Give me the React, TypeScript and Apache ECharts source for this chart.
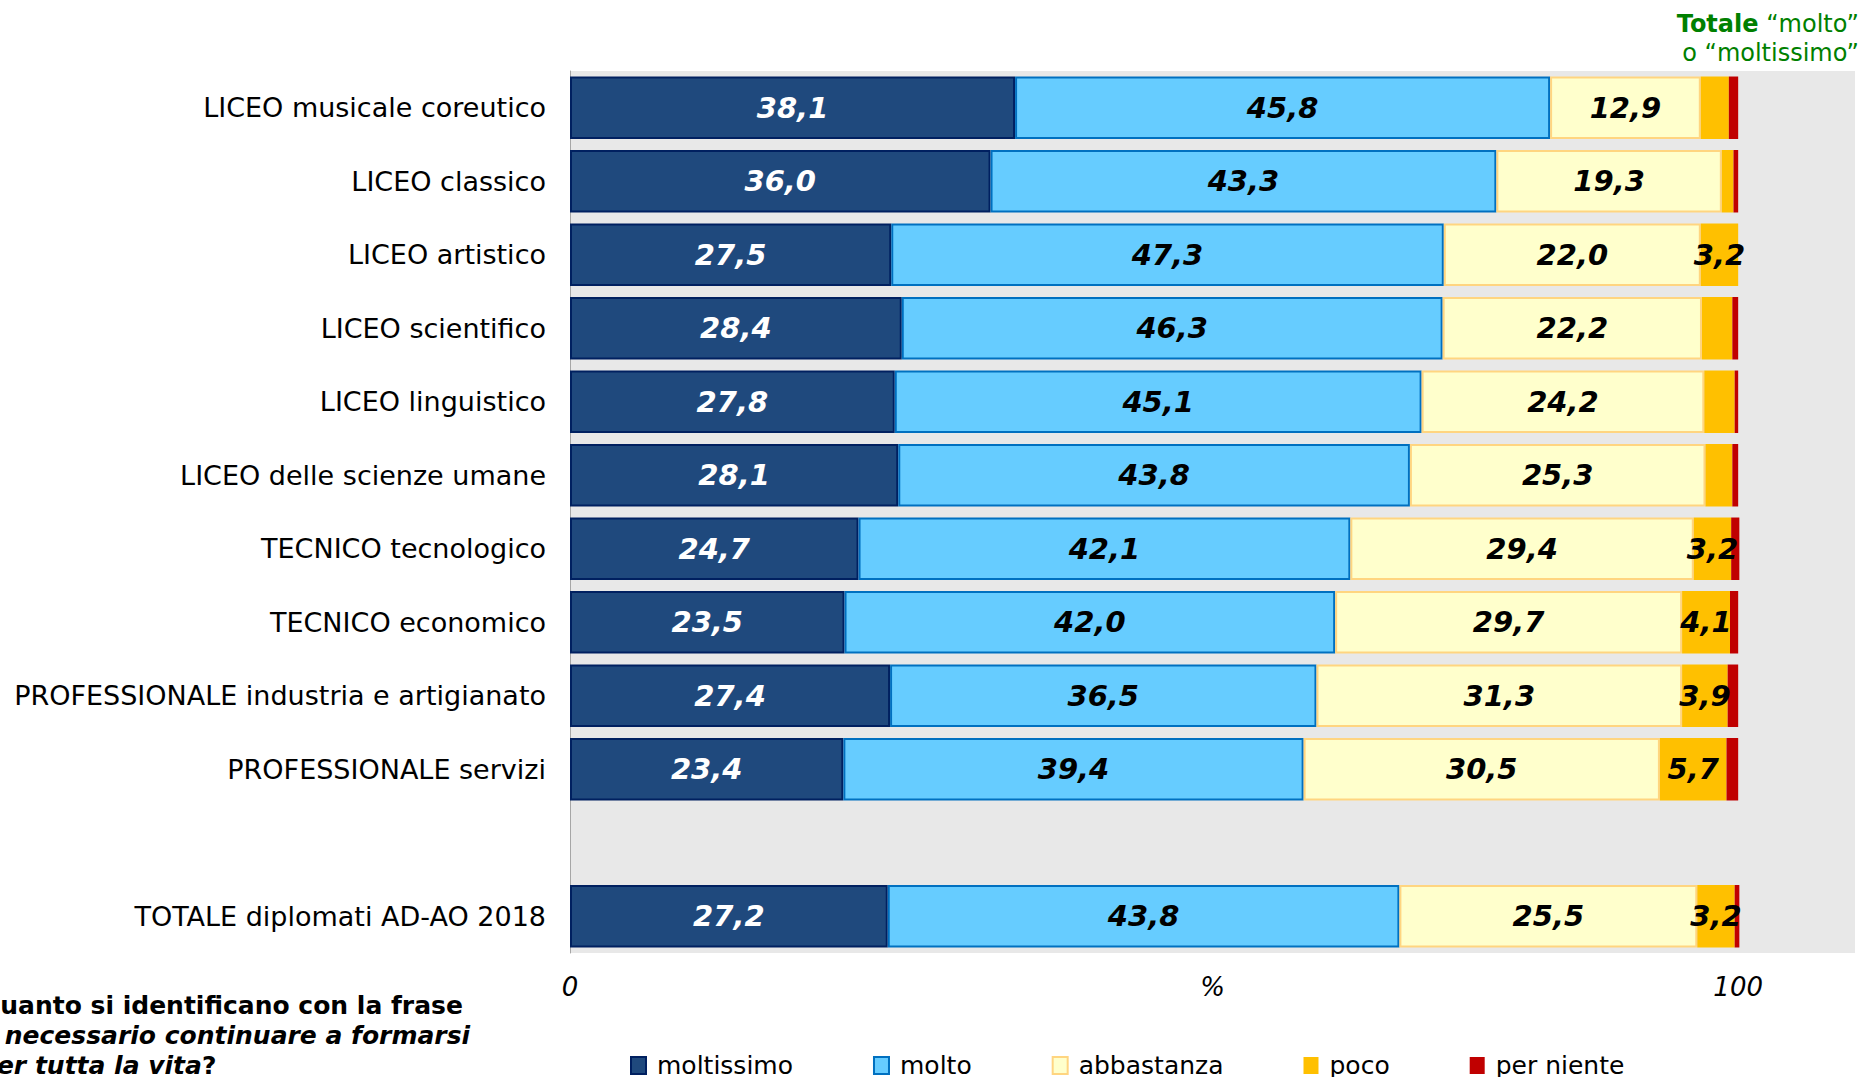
import React, { useEffect, useRef } from "react";
import * as echarts from "echarts";

const categories = [
  "LICEO musicale coreutico",
  "LICEO classico",
  "LICEO artistico",
  "LICEO scientifico",
  "LICEO linguistico",
  "LICEO delle scienze umane",
  "TECNICO tecnologico",
  "TECNICO economico",
  "PROFESSIONALE industria e artigianato",
  "PROFESSIONALE servizi",
  "TOTALE diplomati AD-AO 2018",
];
const moltissimo = [38.1, 36.0, 27.5, 28.4, 27.8, 28.1, 24.7, 23.5, 27.4, 23.4, 27.2];
const molto = [45.8, 43.3, 47.3, 46.3, 45.1, 43.8, 42.1, 42.0, 36.5, 39.4, 43.8];
const abbastanza = [12.9, 19.3, 22.0, 22.2, 24.2, 25.3, 29.4, 29.7, 31.3, 30.5, 25.5];
const poco = [2.4, 1.0, 3.2, 2.6, 2.6, 2.3, 3.2, 4.1, 3.9, 5.7, 3.2];
const perNiente = [0.8, 0.4, 0.0, 0.5, 0.3, 0.5, 0.7, 0.7, 0.9, 1.0, 0.4];
const totaleMoltoMoltissimo = [83.9, 79.4, 74.7, 74.7, 72.9, 71.8, 66.8, 65.5, 63.9, 62.9, 71.0];
const xTicks = [0, 100];
const X_MAX = 110.0;

// insert an empty slot before the last row (TOTALE)
const withGap = <T,>(arr: T[], gap: T): T[] => [...arr.slice(0, arr.length - 1), gap, arr[arr.length - 1]];

const fmt = (v: number) => v.toFixed(1).replace(".", ",");
const FONT = "DejaVu Sans";

export default function App() {
  const ref = useRef<HTMLDivElement>(null);
  useEffect(() => {
    if (!ref.current) return;
    const chart = echarts.init(ref.current, undefined, { renderer: "svg" });
    const cats = withGap(categories, "");
    const labelBase = {
      show: true,
      position: "inside" as const,
      fontFamily: FONT,
      fontSize: 29,
      fontWeight: "bold" as const,
      fontStyle: "italic" as const,
      color: "#000",
    };
    const mk = (
      name: string,
      data: number[],
      color: string,
      border: string,
      borderWidth: number,
      labelColor: string,
      minLabel: number
    ) => ({
      name,
      type: "bar" as const,
      stack: "tot",
      barCategoryGap: "15%",
      data: withGap<number | string>(data, "-"),
      itemStyle: { color, borderColor: border, borderWidth },
      label: {
        ...labelBase,
        color: labelColor,
        formatter: (p: any) => (typeof p.value === "number" && p.value >= minLabel ? fmt(p.value) : ""),
      },
      emphasis: { disabled: true },
    });
    const totalsData = withGap<any>(
      totaleMoltoMoltissimo.map((t) => [X_MAX, 0, t]),
      null
    )
      .map((d, i) => (d ? [d[0], i, d[2]] : null))
      .filter((d) => d !== null);

    chart.setOption({
      animation: false,
      textStyle: { fontFamily: FONT },
      grid: {
        left: 570,
        right: 0,
        top: 71,
        bottom: 124,
        show: true,
        backgroundColor: "#E8E8E8",
        borderWidth: 0,
      },
      legend: {
        left: 625,
        top: 1048,
        itemGap: 80,
        itemWidth: 15,
        itemHeight: 17,
        icon: "rect",
        textStyle: { fontFamily: FONT, fontSize: 25, color: "#000", padding: [0, 0, 0, 6] },
        data: ["moltissimo", "molto", "abbastanza", "poco", "per niente"],
      },
      xAxis: {
        type: "value",
        min: 0,
        max: X_MAX,
        interval: 100,
        name: "%",
        nameLocation: "middle",
        nameGap: 21,
        nameMoveOverlap: false,
        nameTextStyle: { fontFamily: FONT, fontSize: 26, fontStyle: "italic", color: "#000", verticalAlign: "top" },
        splitLine: { show: false },
        axisLine: { show: false },
        axisTick: { show: false },
        axisLabel: {
          margin: 21,
          fontFamily: FONT,
          fontSize: 26,
          fontStyle: "italic",
          color: "#000",
          formatter: (v: number) => (xTicks.includes(v) ? String(v) : ""),
        },
      },
      yAxis: {
        type: "category",
        inverse: true,
        data: cats,
        axisLine: { show: true, lineStyle: { color: "#A6A6A6", width: 1 } },
        axisTick: { show: false },
        axisLabel: { margin: 24, fontFamily: FONT, fontSize: 27, color: "#000" },
      },
      series: [
        mk("moltissimo", moltissimo, "#1F497D", "#002060", 2, "#fff", 0),
        mk("molto", molto, "#66CCFF", "#0070C0", 2, "#000", 0),
        mk("abbastanza", abbastanza, "#FFFFCC", "#FFD580", 2, "#000", 0),
        mk("poco", poco, "#FFC000", "#FFC000", 0, "#000", 3),
        mk("per niente", perNiente, "#C00000", "#C00000", 0, "#000", 100),
        {
          name: "totale",
          type: "scatter",
          symbolSize: 0,
          data: totalsData,
          itemStyle: { opacity: 0 },
          label: {
            show: true,
            position: "left",
            distance: 8,
            fontFamily: FONT,
            fontSize: 29,
            fontWeight: "bold",
            fontStyle: "italic",
            color: "#008000",
            formatter: (p: any) => fmt(p.value[2]),
          },
          emphasis: { disabled: true },
          z: 10,
        },
      ],
      graphic: [
        {
          type: "text",
          right: -1,
          top: 12,
          style: {
            text: "{b|Totale} “molto”",
            fill: "#008000",
            fontFamily: FONT,
            fontSize: 24,
            rich: {
              b: { fontFamily: FONT, fontSize: 24, fontWeight: "bold", fill: "#008000" },
            },
          },
        },
        {
          type: "text",
          right: -1,
          top: 41,
          style: {
            text: "o “moltissimo”",
            fill: "#008000",
            fontFamily: FONT,
            fontSize: 24,
          },
        },
        {
          type: "text",
          x: -21,
          y: 990,
          style: {
            text:
              "{b|Quanto si identificano con la frase}\n{i|È necessario continuare a formarsi}\n{i|per tutta la vita}{b|?}",
            fill: "#000",
            fontFamily: FONT,
            fontSize: 25,
            lineHeight: 30,
            rich: {
              b: { fontFamily: FONT, fontSize: 25, fontWeight: "bold", lineHeight: 30, fill: "#000" },
              i: { fontFamily: FONT, fontSize: 25, fontWeight: "bold", fontStyle: "italic", lineHeight: 30, fill: "#000" },
            },
          },
        },
      ],
    });
    return () => chart.dispose();
  }, []);
  return (
    <div
      ref={ref}
      style={{ position: "absolute", left: 0, top: 0, width: 1858, height: 1077, overflow: "hidden", background: "#fff" }}
    />
  );
}
